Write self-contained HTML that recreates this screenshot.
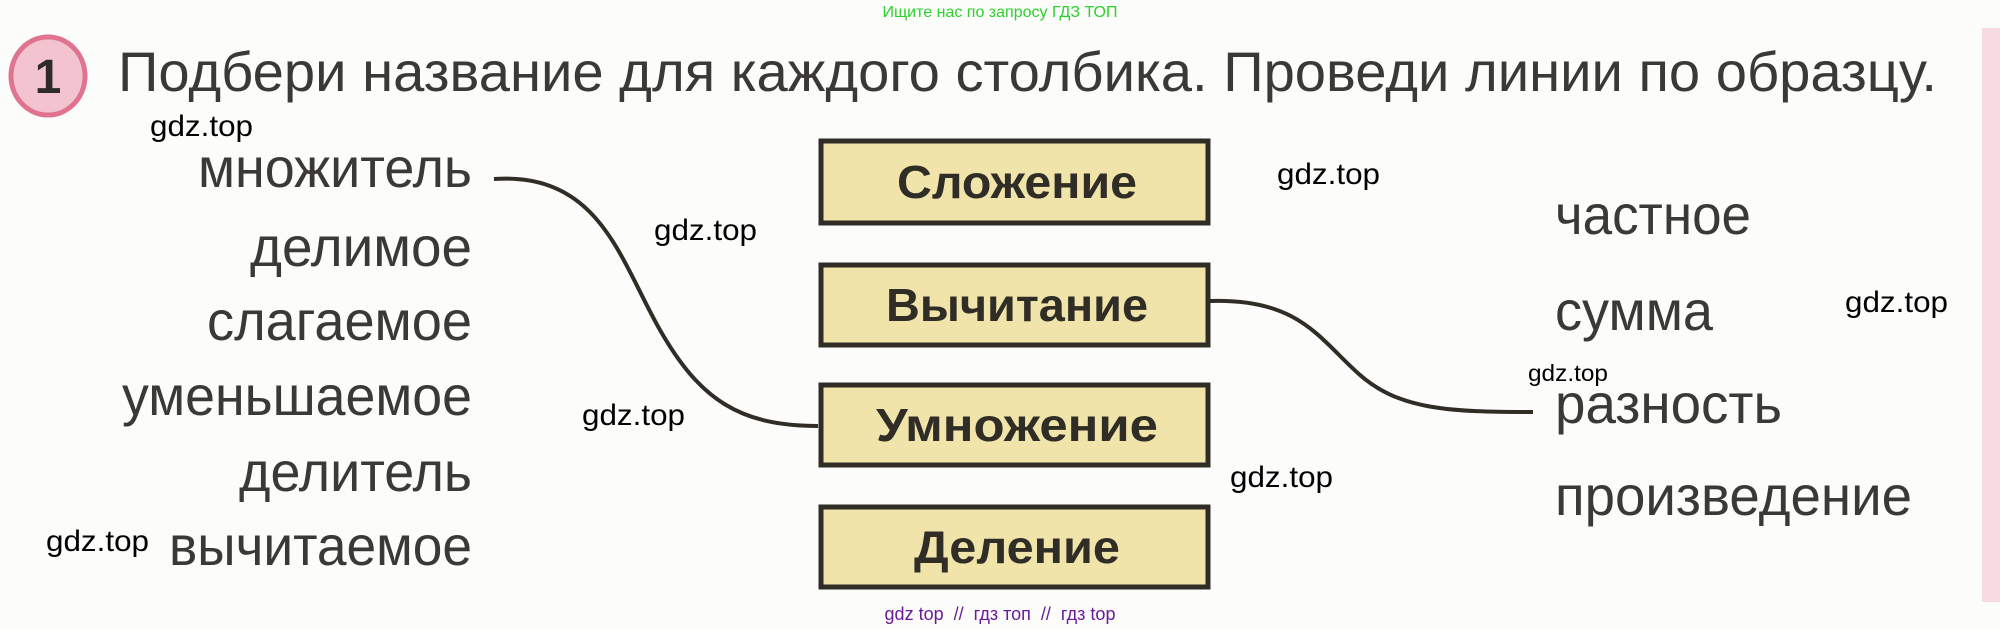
<!DOCTYPE html>
<html><head><meta charset="utf-8"><style>
html,body{margin:0;padding:0;background:#fcfcfa;}
svg{display:block;font-family:"Liberation Sans",Arial,sans-serif;}
</style></head><body>
<svg width="2000" height="629" viewBox="0 0 2000 629" xmlns="http://www.w3.org/2000/svg">
<rect x="1982" y="28" width="18" height="574" fill="#f6dbe3"/>
<text x="1000" y="17" font-size="16" fill="#2ed02e" text-anchor="middle">Ищите нас по запросу ГДЗ ТОП</text>
<ellipse cx="48" cy="76" rx="37" ry="39" fill="#f4c3d0" stroke="#e0738f" stroke-width="5"/>
<text x="48" y="93" font-size="48" font-weight="bold" fill="#2e2c28" text-anchor="middle">1</text>
<text x="118" y="91" font-size="56" fill="#3a3935" textLength="1819" lengthAdjust="spacingAndGlyphs">Подбери  название  для  каждого  столбика.  Проведи  линии  по  образцу.</text>

<g fill="#3a3935" font-size="56" text-anchor="end">
<text x="472" y="187" textLength="274" lengthAdjust="spacingAndGlyphs">множитель</text>
<text x="472" y="266" textLength="222" lengthAdjust="spacingAndGlyphs">делимое</text>
<text x="472" y="340" textLength="265" lengthAdjust="spacingAndGlyphs">слагаемое</text>
<text x="472" y="415" textLength="350" lengthAdjust="spacingAndGlyphs">уменьшаемое</text>
<text x="472" y="491" textLength="233" lengthAdjust="spacingAndGlyphs">делитель</text>
<text x="472" y="565" textLength="303" lengthAdjust="spacingAndGlyphs">вычитаемое</text>
</g>
<g fill="#3a3935" font-size="56">
<text x="1555" y="234" textLength="196" lengthAdjust="spacingAndGlyphs">частное</text>
<text x="1555" y="330" textLength="158" lengthAdjust="spacingAndGlyphs">сумма</text>
<text x="1555" y="423" textLength="227" lengthAdjust="spacingAndGlyphs">разность</text>
<text x="1555" y="515" textLength="357" lengthAdjust="spacingAndGlyphs">произведение</text>
</g>

<g fill="#f0e4aa" stroke="#2f2d25" stroke-width="5">
<rect x="821" y="141" width="387" height="82"/>
<rect x="821" y="265" width="387" height="80"/>
<rect x="821" y="385" width="387" height="80"/>
<rect x="821" y="507" width="387" height="80"/>
</g>
<g fill="#2f2d25" font-size="46" font-weight="bold" text-anchor="middle">
<text x="1017" y="198" textLength="240" lengthAdjust="spacingAndGlyphs">Сложение</text>
<text x="1017" y="321" textLength="262" lengthAdjust="spacingAndGlyphs">Вычитание</text>
<text x="1017" y="441" textLength="282" lengthAdjust="spacingAndGlyphs">Умножение</text>
<text x="1017" y="563" textLength="206" lengthAdjust="spacingAndGlyphs">Деление</text>
</g>

<g fill="none" stroke="#2f2d25" stroke-width="4">
<path d="M494,179 C600,172 620,260 660,330 C700,400 740,426 818,426"/>
<path d="M1210,301 C1300,298 1320,340 1360,375 C1400,410 1450,412 1533,412"/>
</g>

<g fill="#000" font-size="30">
<text x="150" y="136" textLength="103" lengthAdjust="spacingAndGlyphs">gdz.top</text>
<text x="654" y="240" textLength="103" lengthAdjust="spacingAndGlyphs">gdz.top</text>
<text x="582" y="425" textLength="103" lengthAdjust="spacingAndGlyphs">gdz.top</text>
<text x="46" y="551" textLength="103" lengthAdjust="spacingAndGlyphs">gdz.top</text>
<text x="1277" y="184" textLength="103" lengthAdjust="spacingAndGlyphs">gdz.top</text>
<text x="1845" y="312" textLength="103" lengthAdjust="spacingAndGlyphs">gdz.top</text>
<text x="1230" y="487" textLength="103" lengthAdjust="spacingAndGlyphs">gdz.top</text>
<text x="1528" y="381" font-size="23" textLength="80" lengthAdjust="spacingAndGlyphs">gdz.top</text>
</g>
<text x="1000" y="620" font-size="18" fill="#6a1b9a" text-anchor="middle" xml:space="preserve">gdz top  //  гдз топ  //  гдз top</text>
</svg>
</body></html>
